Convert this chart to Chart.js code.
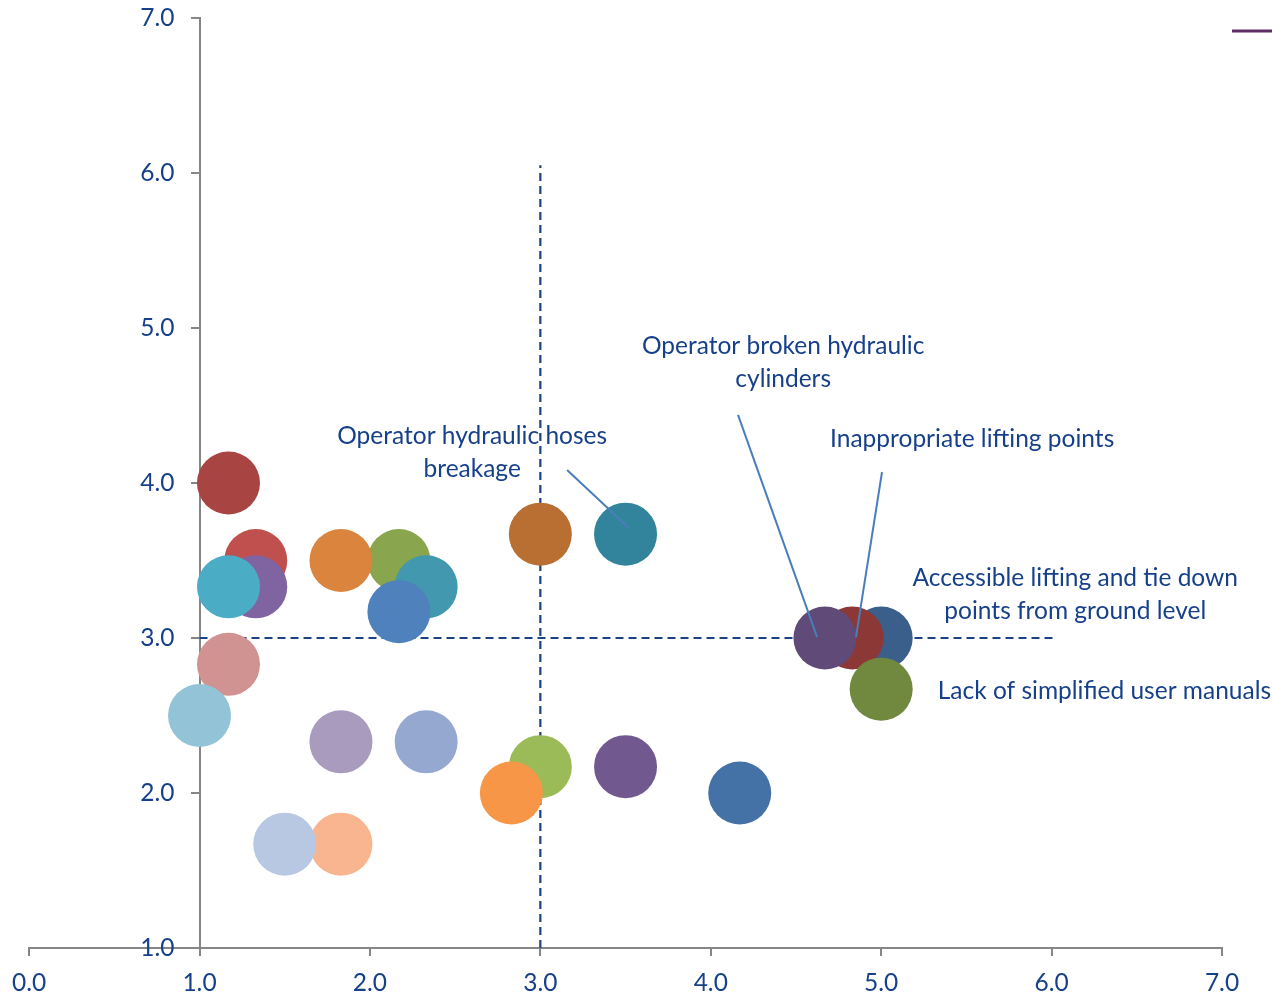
<!DOCTYPE html>
<html>
<head>
<meta charset="utf-8">
<title>Risk bubbles</title>
<script src="https://cdn.jsdelivr.net/npm/chart.js"></script>
<style>
  html, body { margin: 0; padding: 0; background: #ffffff; }
  #wrap { width: 1272px; height: 994px; }
</style>
</head>
<body>
<div id="wrap"><canvas id="bubbles" width="1272" height="994"></canvas></div>
<script>
// bubble positions (x, y) and fill colours, in drawing order
const xValues = [1.17, 1.33, 1.33, 1.17, 2.17, 1.83, 2.33, 2.17, 1.17, 1.0, 1.83, 2.33,
                 1.83, 1.5, 3.0, 3.5, 3.0, 2.83, 3.5, 4.17, 5.0, 4.83, 4.67, 5.0];
const yValues = [4.0, 3.5, 3.33, 3.33, 3.5, 3.5, 3.33, 3.17, 2.83, 2.5, 2.33, 2.33,
                 1.67, 1.67, 3.67, 3.67, 2.17, 2.0, 2.17, 2.0, 3.0, 3.0, 3.0, 2.67];
const bubbleColors = ['#A84441', '#C0504D', '#8064A2', '#4BACC6', '#89A54E', '#DB843D',
                      '#4198AF', '#4F81BD', '#D09391', '#93C3D6', '#A99BBD', '#95A9D0',
                      '#F9B590', '#B9C8E2', '#B96F32', '#31849B', '#9BBB59', '#F79646',
                      '#71588F', '#4471A6', '#3A5F8B', '#8C3836', '#5F4A78', '#71893F'];

// tick labels
const xTickLabels = ['0.0', '1.0', '2.0', '3.0', '4.0', '5.0', '6.0', '7.0'];
const yTickLabels = ['1.0', '2.0', '3.0', '4.0', '5.0', '6.0', '7.0'];

// dashed quadrant guides
const vGuideX = [3.0, 3.0];
const vGuideY = [1.0, 6.05];
const hGuideX = [1.0, 6.03];
const hGuideY = [3.0, 3.0];

// callout texts, where they sit, and their leader lines
const calloutText = [
  ['Operator hydraulic hoses', 'breakage'],
  ['Operator broken hydraulic', 'cylinders'],
  ['Inappropriate lifting points'],
  ['Accessible lifting and tie down', 'points from ground level'],
  ['Lack of simplified user manuals']
];
const calloutX = [2.60, 4.425, 5.534, 6.139, 6.31];
const calloutY = [4.30, 4.884, 4.284, 3.387, 2.658];
const leaders = [
  [[3.157, 4.084], [3.52, 3.71]],
  [[4.16, 4.439], [4.624, 3.006]],
  [[5.005, 4.071], [4.852, 3.006]]
];

const textColor = '#17408A';
const axisColor = '#868686';
const guideColor = '#1B4284';
const fontFamily = 'Lato, "Open Sans", sans-serif';
const fontSize = 24.5;

const points = xValues.map((x, i) => ({ x: x, y: yValues[i] }));

const calloutPlugin = {
  id: 'callouts',
  afterDatasetsDraw(chart) {
    const ctx = chart.ctx;
    const xs = chart.scales.x;
    const ys = chart.scales.y;
    ctx.save();
    ctx.strokeStyle = '#4A7EBB';
    ctx.lineWidth = 2;
    leaders.forEach(seg => {
      ctx.beginPath();
      ctx.moveTo(xs.getPixelForValue(seg[0][0]), ys.getPixelForValue(seg[0][1]));
      ctx.lineTo(xs.getPixelForValue(seg[1][0]), ys.getPixelForValue(seg[1][1]));
      ctx.stroke();
    });
    ctx.fillStyle = textColor;
    ctx.font = fontSize + 'px ' + fontFamily;
    ctx.textAlign = 'center';
    ctx.textBaseline = 'middle';
    calloutText.forEach((lines, i) => {
      const px = xs.getPixelForValue(calloutX[i]);
      const py = ys.getPixelForValue(calloutY[i]);
      lines.forEach((t, j) => ctx.fillText(t, px, py + j * 33));
    });
    // y tick labels sit left of the crossing axis at x = 1
    ctx.textAlign = 'right';
    const axisX = xs.getPixelForValue(1);
    ys.ticks.forEach((t, i) => {
      ctx.fillText(yTickLabels[i], axisX - 25, ys.getPixelForValue(t.value));
    });
    // stray legend key in the top right corner
    ctx.strokeStyle = '#5E2D66';
    ctx.lineWidth = 3;
    ctx.beginPath();
    ctx.moveTo(1232, 31);
    ctx.lineTo(1272, 31);
    ctx.stroke();
    ctx.restore();
  }
};

new Chart(document.getElementById('bubbles'), {
  type: 'scatter',
  data: {
    datasets: [
      {
        data: points,
        backgroundColor: bubbleColors,
        pointBackgroundColor: bubbleColors,
        pointRadius: 31.5,
        pointHoverRadius: 31.5,
        pointBorderWidth: 0,
        borderWidth: 0,
        order: 1
      },
      {
        type: 'line',
        data: vGuideX.map((x, i) => ({ x: x, y: vGuideY[i] })),
        borderColor: guideColor,
        borderWidth: 2.2,
        borderDash: [8, 5],
        pointRadius: 0,
        fill: false,
        order: 2
      },
      {
        type: 'line',
        data: hGuideX.map((x, i) => ({ x: x, y: hGuideY[i] })),
        borderColor: guideColor,
        borderWidth: 2.2,
        borderDash: [8, 5],
        pointRadius: 0,
        fill: false,
        order: 2
      }
    ]
  },
  options: {
    responsive: false,
    animation: false,
    events: [],
    layout: { autoPadding: false, padding: { left: 29, right: 50, top: 18, bottom: 0 } },
    plugins: { legend: { display: false }, tooltip: { enabled: false } },
    scales: {
      x: {
        type: 'linear',
        min: 0,
        max: 7,
        position: 'bottom',
        afterFit: scale => { scale.height = 46; },
        ticks: {
          stepSize: 1,
          padding: 12,
          color: textColor,
          font: { family: fontFamily, size: fontSize },
          callback: (v, i) => xTickLabels[i]
        },
        grid: { drawOnChartArea: false, drawTicks: true, tickLength: 8, color: axisColor, lineWidth: 2 },
        border: { display: true, color: axisColor, width: 2 }
      },
      y: {
        type: 'linear',
        min: 1,
        max: 7,
        position: { x: 1 },
        ticks: {
          stepSize: 1,
          display: false,
          callback: (v, i) => yTickLabels[i]
        },
        grid: { drawOnChartArea: false, drawTicks: true, tickLength: 8, color: axisColor, lineWidth: 2 },
        border: { display: true, color: axisColor, width: 2 }
      }
    }
  },
  plugins: [calloutPlugin]
});
</script>
</body>
</html>
